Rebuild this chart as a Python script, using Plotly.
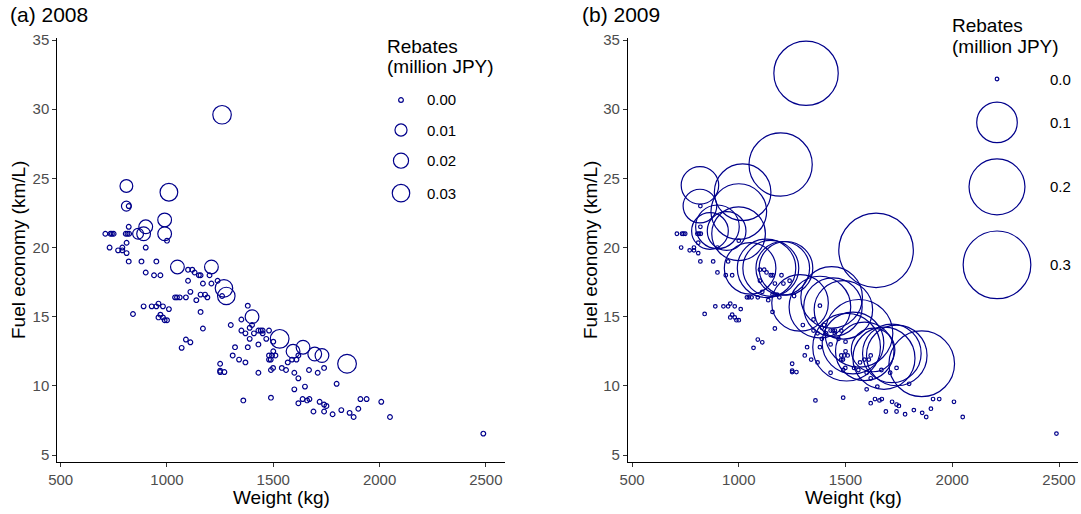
import numpy as np
import plotly.graph_objects as go

# ---------------- data ----------------
# cars drawn as small circles (no rebate) in both years: weight (kg), fuel economy (km/L)
weight_common = [710, 734, 741, 749, 806, 814, 822, 820, 820, 1000, 810, 730, 770, 790, 790, 810, 900,
                 820, 880, 950, 900, 939, 969, 1099, 1119, 1130, 1150, 1158, 1200, 1099, 1169, 1209, 1238,
                 1259, 1110, 1158, 1179, 1190, 1038, 1047, 1060, 1089, 1138, 1380, 1350, 1300, 1400, 1389,
                 1350, 1369, 1409, 1430, 1441, 1450, 1450, 1480, 1389, 1467, 1500, 1320, 1380, 1430, 1500,
                 1309, 1339, 1369, 1480, 1480, 1488, 1494, 1510, 1568, 1588, 1609, 1618, 1250, 1250, 1250,
                 1270, 1499, 1489, 1540, 1560, 1430, 1599, 1668, 1709, 1739, 1618, 1649, 1599, 1798, 1359,
                 1489, 1618, 1638, 1659, 1670, 1718, 1739, 1750, 1689, 1739, 1779, 1820, 1859, 1878, 1900,
                 1910, 1939, 2008, 2049, 2488, 840, 890, 928, 950, 960, 981, 1009, 969, 960, 981, 989, 1000,
                 1158, 1169, 1089, 1110, 1069]
fuel_common = [21.0, 21.0, 21.0, 21.0, 21.0, 21.0, 21.0, 23.0, 21.5, 20.5, 20.35, 20.0, 19.8, 20.0, 19.8,
               19.6, 20.0, 19.0, 19.0, 19.0, 18.2, 18.0, 18.0, 18.4, 18.4, 18.2, 18.0, 18.0, 18.0, 17.6,
               17.4, 17.4, 17.6, 16.5, 16.8, 16.6, 16.6, 16.4, 16.4, 16.4, 16.4, 16.4, 16.2, 15.8, 14.8,
               14.4, 14.4, 14.2, 14.0, 13.8, 13.8, 14.0, 14.0, 14.0, 13.8, 14.0, 13.4, 13.4, 13.2, 12.8,
               12.8, 13.0, 12.5, 12.2, 11.9, 11.7, 12.2, 11.9, 11.9, 12.2, 12.2, 11.7, 11.9, 11.9, 12.2,
               11.6, 11.1, 11.0, 11.0, 11.3, 11.15, 11.3, 11.15, 10.95, 10.95, 11.15, 10.95, 11.3, 10.55,
               9.95, 9.75, 10.15, 8.95, 9.15, 8.75, 9.05, 8.95, 9.05, 8.85, 8.65, 8.55, 8.15, 8.15, 7.95,
               8.25, 8.05, 7.75, 8.35, 9.05, 9.05, 8.85, 7.75, 6.55, 15.2, 15.75, 15.75, 15.75, 15.95,
               15.75, 15.55, 15.15, 14.95, 14.95, 14.75, 14.75, 15.35, 14.15, 13.35, 13.15, 12.75]

# cars with a rebate in 2008 (million JPY)
weight_2008 = [1259, 809, 1009, 809, 989, 900, 989, 890, 864, 1049, 1209, 1268, 1279, 1400, 1530, 1593,
               1640, 1695, 1729, 1847]
fuel_2008 = [29.6, 24.45, 24.0, 23.0, 22.0, 21.5, 21.0, 21.0, 21.0, 18.6, 18.6, 17.05, 16.5, 15.0, 13.4,
             12.5, 12.8, 12.3, 12.2, 11.6]
rebate_2008 = [0.035, 0.012, 0.031, 0.005, 0.015, 0.015, 0.015, 0.015, 0.007, 0.015, 0.015, 0.030, 0.030,
               0.015, 0.036, 0.015, 0.015, 0.015, 0.015, 0.036]

# cars with a rebate in 2009 (million JPY)
weight_2009 = [1315, 1196, 818, 1018, 818, 1000, 865, 900, 943, 999, 1643, 1053, 1130, 1150, 1206, 1221,
               1287, 1435, 1380, 1490, 1441, 1857, 1740, 1717, 1629, 1535, 1563, 1505, 1590, 1680]
fuel_2009 = [32.6, 26.0, 24.5, 24.0, 23.0, 22.6, 21.2, 21.5, 21.2, 21.0, 19.8, 18.5, 18.5, 18.5, 18.5, 18.5,
             16.0, 16.4, 15.7, 15.5, 15.7, 11.6, 12.2, 12.35, 12.6, 13.1, 13.8, 12.8, 12.5, 12.0]
rebate_2009 = [0.27, 0.26, 0.084, 0.205, 0.066, 0.198, 0.08, 0.117, 0.09, 0.183, 0.368, 0.168, 0.22, 0.20,
               0.183, 0.183, 0.205, 0.246, 0.246, 0.22, 0.22, 0.281, 0.237, 0.221, 0.117, 0.246, 0.30,
               0.30, 0.22, 0.25]

legend_breaks_2008 = [0.00, 0.01, 0.02, 0.03]
legend_labels_2008 = ["0.00", "0.01", "0.02", "0.03"]
legend_breaks_2009 = [0.0, 0.1, 0.2, 0.3]
legend_labels_2009 = ["0.0", "0.1", "0.2", "0.3"]

x_ticks = [500, 1000, 1500, 2000, 2500]
y_ticks = [5, 10, 15, 20, 25, 30, 35]

# ---------------- style ----------------
W, H = 1081, 514
NAVY = "#00008B"
LW = 1.2
FONT = "Liberation Sans, Arial, sans-serif"


def diam_2008(v):
    return 5.9 + 73.8 * np.sqrt(np.asarray(v, float))


def diam_2009(v):
    return 4.8 + 117.0 * np.sqrt(np.asarray(v, float))


def key_pos(diams, y0, gap=15, minh=30):
    h = [max(d + gap, minh) for d in diams]
    ys = [y0]
    for i in range(1, len(h)):
        ys.append(ys[-1] + (h[i - 1] + h[i]) / 2)
    return ys


w_a = weight_common + weight_2008
f_a = fuel_common + fuel_2008
r_a = [0.0] * len(weight_common) + rebate_2008
w_b = weight_common + weight_2009
f_b = fuel_common + fuel_2009
r_b = [0.0] * len(weight_common) + rebate_2009

fig = go.Figure()
fig.add_trace(go.Scatter(x=w_a, y=f_a, mode="markers", xaxis="x", yaxis="y", showlegend=False,
                         marker=dict(symbol="circle-open", size=(diam_2008(r_a) - LW).tolist(), color=NAVY,
                                     opacity=1, line=dict(width=LW, color=NAVY))))
fig.add_trace(go.Scatter(x=w_b, y=f_b, mode="markers", xaxis="x2", yaxis="y2", showlegend=False,
                         marker=dict(symbol="circle-open", size=(diam_2009(r_b) - LW).tolist(), color=NAVY,
                                     opacity=1, line=dict(width=LW, color=NAVY))))


def px_ann(text, x, y, size, xanchor="left", yanchor="middle", angle=0, color="black"):
    fig.add_annotation(text=text, x=x / W, y=1 - y / H, xref="paper", yref="paper", showarrow=False,
                       xanchor=xanchor, yanchor=yanchor, textangle=angle, borderpad=0,
                       font=dict(family=FONT, size=size, color=color))


# size legends: keys sized by the same mapping as the data
for breaks, labels, dfun, kx, lx, y0 in [
    (legend_breaks_2008, legend_labels_2008, diam_2008, 401, 426, 100),
    (legend_breaks_2009, legend_labels_2009, diam_2009, 997, 1049, 79),
]:
    d = [float(v) for v in dfun(breaks)]
    ys = key_pos(d, y0)
    for di, yi, lab in zip(d, ys, labels):
        r = (di - LW) / 2
        fig.add_shape(type="circle", xref="paper", yref="paper", xsizemode="pixel", ysizemode="pixel",
                      xanchor=kx / W, yanchor=1 - yi / H, x0=-r, x1=r, y0=-r, y1=r,
                      line=dict(color=NAVY, width=LW), fillcolor="rgba(0,0,0,0)")
        px_ann(lab, lx, yi, 15)

axis_common = dict(showgrid=False, zeroline=False, showline=True, linecolor="black", linewidth=1.1,
                   ticks="outside", ticklen=4, tickwidth=1.1, tickcolor="#333333",
                   tickfont=dict(family=FONT, size=15, color="#4D4D4D"))

ydom = [1 - 461.7 / H, 1 - 38 / H]
fig.update_layout(
    width=W, height=H, margin=dict(l=0, r=0, t=0, b=0, autoexpand=False),
    paper_bgcolor="white", plot_bgcolor="white",
    font=dict(family=FONT),
    xaxis=dict(domain=[57.3 / W, 505 / W], range=[484, 2590], tickvals=x_ticks, anchor="y", **axis_common),
    yaxis=dict(domain=ydom, range=[4.52, 35.15], tickvals=y_ticks, anchor="x", **axis_common),
    xaxis2=dict(domain=[628 / W, 1078 / W], range=[481, 2589], tickvals=x_ticks, anchor="y2", **axis_common),
    yaxis2=dict(domain=ydom, range=[4.52, 35.15], tickvals=y_ticks, anchor="x2", **axis_common),
)

px_ann("(a) 2008", 9, 14, 21)
px_ann("(b) 2009", 581, 14, 21)
px_ann("Weight (kg)", 281, 497, 19, xanchor="center")
px_ann("Weight (kg)", 853, 497, 19, xanchor="center")
px_ann("Fuel economy (km/L)", 18, 250, 19, xanchor="center", angle=-90)
px_ann("Fuel economy (km/L)", 590, 250, 19, xanchor="center", angle=-90)
px_ann("Rebates", 386, 46, 19)
px_ann("(million JPY)", 386, 67, 19)
px_ann("Rebates", 951, 25, 19)
px_ann("(million JPY)", 951, 46, 19)

fig.write_html("out.html", config={"displayModeBar": False},
               post_script="document.body.style.margin='0';document.body.style.overflow='hidden';")
